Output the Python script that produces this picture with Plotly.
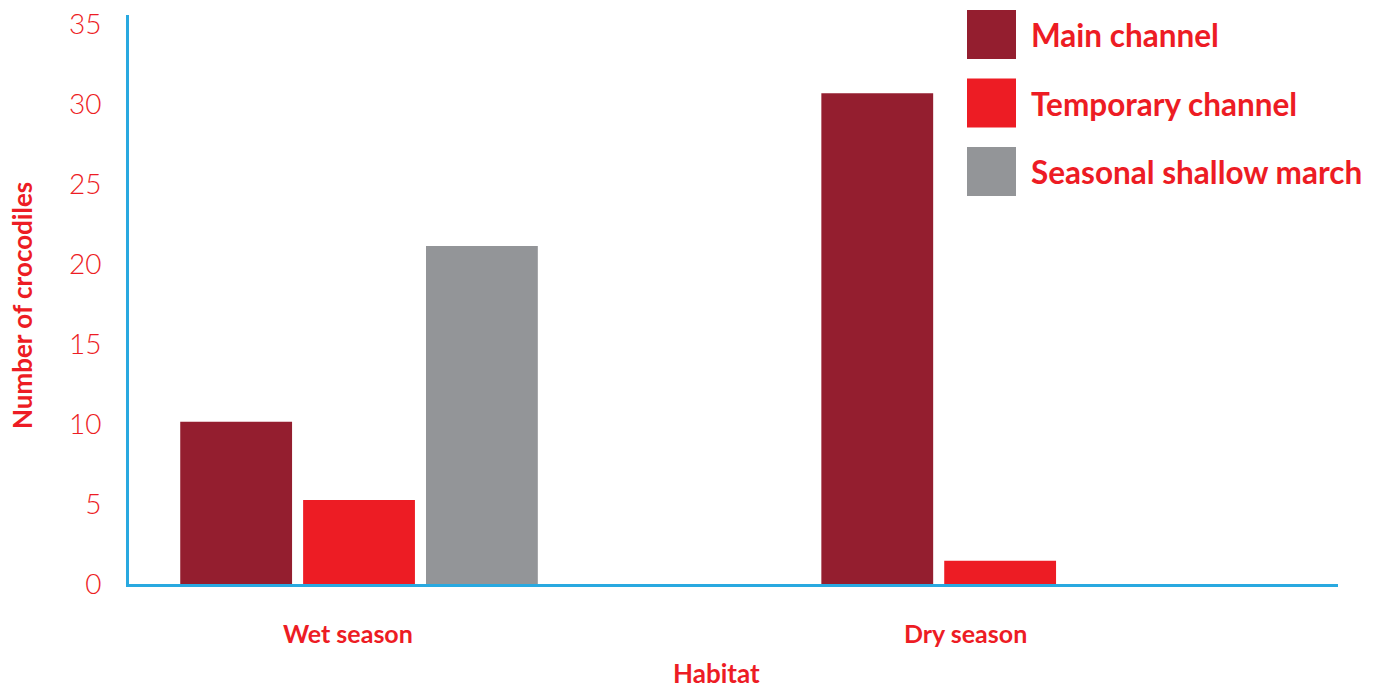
import plotly.graph_objects as go

# Crocodile counts by habitat and season
categories = ["Wet season", "Dry season"]
series_names = ["Main channel", "Temporary channel", "Seasonal shallow march"]
main_channel = [10.15, 30.7]
temporary_channel = [5.25, 1.45]
seasonal_shallow_march = [21.15, None]
series_values = [main_channel, temporary_channel, seasonal_shallow_march]
series_colors = ["#941e2f", "#ed1c24", "#939598"]

y_ticks = [0, 5, 10, 15, 20, 25, 30, 35]

RED = "#ed1c24"
BLUE = "#29a9e0"
FONT = "Lato"

W, H = 1380, 689
M_L, M_R, M_T, M_B = 129, 42, 15, 105
PW, PH = W - M_L - M_R, H - M_T - M_B


def px_x(x):
    return (x - M_L) / PW


def px_y(y):
    return (H - M_B - y) / PH


fig = go.Figure()
for name, vals, col in zip(series_names, series_values, series_colors):
    fig.add_trace(go.Bar(x=categories, y=vals, name=name,
                         marker=dict(color=col, line=dict(width=0)),
                         showlegend=False))

shapes = []
annotations = []

# Legend: large swatches with bold labels
for i, (name, col) in enumerate(zip(series_names, series_colors)):
    top = 10 + i * 68.5
    shapes.append(dict(type="rect", xref="paper", yref="paper",
                       x0=px_x(967), x1=px_x(1016),
                       y0=px_y(top + 49), y1=px_y(top),
                       fillcolor=col, line=dict(width=0), layer="above"))
    annotations.append(dict(text=f"<b>{name}</b>", xref="paper", yref="paper",
                            x=px_x(1029), y=px_y(top + 25),
                            xanchor="left", yanchor="middle", showarrow=False,
                            font=dict(family=FONT, size=31.5, color=RED)))

# Category labels under each group
for cat, shift in zip(categories, [-11, -35]):
    annotations.append(dict(text=f"<b>{cat}</b>", x=cat, xref="x",
                            yref="paper", y=px_y(633), xshift=shift,
                            xanchor="center", yanchor="middle", showarrow=False,
                            font=dict(family=FONT, size=25, color=RED)))

# Axis titles
annotations.append(dict(text="<b>Habitat</b>", xref="paper", yref="paper",
                        x=px_x(716), y=px_y(673), xanchor="center",
                        yanchor="middle", showarrow=False,
                        font=dict(family=FONT, size=26, color=RED)))
annotations.append(dict(text="<b>Number of crocodiles</b>", xref="paper",
                        yref="paper", x=px_x(22), y=px_y(306), textangle=-90,
                        xanchor="center", yanchor="middle", showarrow=False,
                        font=dict(family=FONT, size=26, color=RED)))

fig.update_layout(
    width=W, height=H,
    margin=dict(l=M_L, r=M_R, t=M_T, b=M_B, autoexpand=False),
    paper_bgcolor="white", plot_bgcolor="white",
    barmode="group", bargap=0.425, bargroupgap=0.09,
    shapes=shapes, annotations=annotations,
    xaxis=dict(range=[-0.3588, 1.527], showticklabels=False, showgrid=False,
               zeroline=False, showline=True, linecolor=BLUE, linewidth=3,
               ticks="", automargin=False),
    yaxis=dict(range=[0, 35.6], tickvals=y_ticks, showgrid=False,
               zeroline=False, showline=True, linecolor=BLUE, linewidth=3,
               ticks="", ticklabelstandoff=19, automargin=False,
               tickfont=dict(family=FONT, size=28, color=RED, weight=300)),
)

fig.write_html("out.html")
